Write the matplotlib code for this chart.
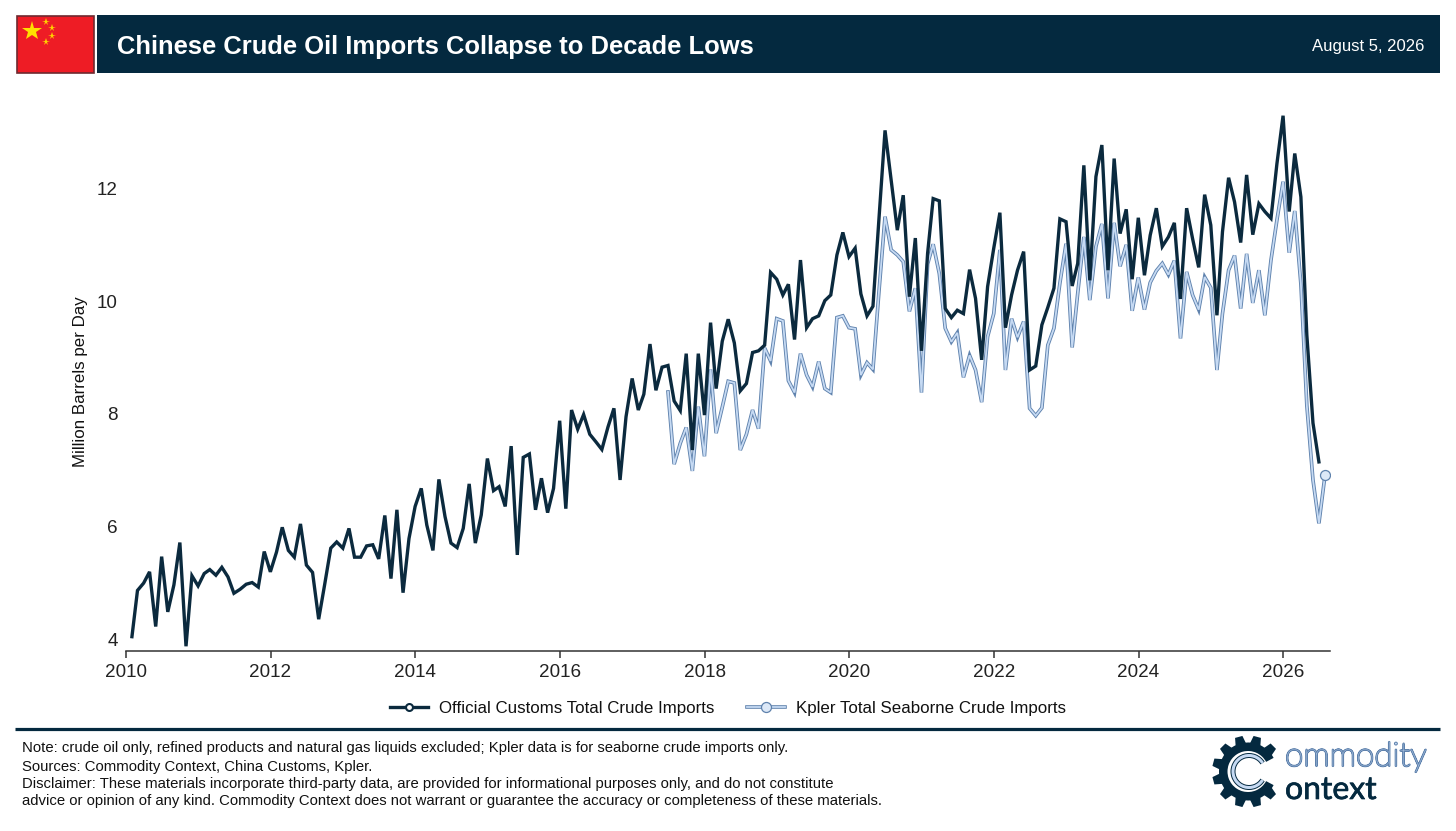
"""Chinese crude imports: customs vs Kpler seaborne, with header band and footer."""

import numpy as np
import pandas as pd
import matplotlib.pyplot as plt
import matplotlib.dates as mdates
import matplotlib.patheffects as pe
from matplotlib.lines import Line2D
from matplotlib.patches import Rectangle, Polygon, Wedge, Arc

plt.rcParams["font.family"] = ["Liberation Sans", "DejaVu Sans"]

NAVY = "#04293f"
LINE_DARK = "#0b2a3e"
KPLER_CORE = "#c6daf3"
KPLER_EDGE = "#5f82ad"
MARKER_FILL = "#dce8f7"

customs_start = "2010-01-31"
customs = [
    4.05, 4.87, 5.00, 5.20, 4.23, 5.47, 4.49, 4.97, 5.72, 3.88, 5.13, 4.95,
    5.17, 5.24, 5.14, 5.28, 5.11, 4.82, 4.89, 4.98, 5.01, 4.93, 5.56, 5.20,
    5.55, 5.99, 5.58, 5.46, 6.05, 5.32, 5.19, 4.36, 4.97, 5.62, 5.73, 5.62,
    5.97, 5.46, 5.46, 5.66, 5.68, 5.43, 6.20, 5.08, 6.30, 4.83, 5.79, 6.36,
    6.68, 6.03, 5.58, 6.84, 6.18, 5.71, 5.63, 5.97, 6.76, 5.71, 6.21, 7.21,
    6.64, 6.71, 6.36, 7.43, 5.50, 7.23, 7.29, 6.30, 6.86, 6.25, 6.68, 7.88,
    6.32, 8.07, 7.73, 7.99, 7.64, 7.51, 7.37, 7.77, 8.10, 6.83, 7.95, 8.63,
    8.07, 8.35, 9.24, 8.42, 8.83, 8.86, 8.23, 8.06, 9.07, 7.36, 9.07, 7.98,
    9.62, 8.45, 9.29, 9.68, 9.26, 8.41, 8.54, 9.09, 9.12, 9.22, 10.51, 10.39,
    10.11, 10.30, 9.32, 10.73, 9.53, 9.69, 9.74, 10.01, 10.11, 10.82, 11.22, 10.79,
    10.94, 10.13, 9.74, 9.91, 11.50, 13.03, 12.15, 11.26, 11.88, 10.08, 11.12, 9.12,
    10.85, 11.82, 11.78, 9.87, 9.71, 9.84, 9.78, 10.56, 10.05, 8.96, 10.26, 10.94,
    11.57, 9.53, 10.11, 10.55, 10.88, 8.78, 8.85, 9.58, 9.89, 10.23, 11.46, 11.41,
    10.27, 10.67, 12.41, 10.37, 12.21, 12.77, 10.55, 12.53, 11.20, 11.63, 10.39, 11.48,
    10.46, 11.17, 11.65, 10.97, 11.14, 11.39, 10.04, 11.65, 11.11, 10.60, 11.89, 11.35,
    9.75, 11.23, 12.19, 11.76, 11.04, 12.24, 11.18, 11.73, 11.59, 11.47, 12.44, 13.29,
    11.59, 12.62, 11.85, 9.40, 7.84, 7.15,
]

kpler_start = "2017-06-30"
kpler = [
    8.39, 7.11, 7.48, 7.76, 6.99, 8.13, 7.25, 8.79, 7.66, 8.12, 8.58, 8.55,
    7.36, 7.64, 8.07, 7.74, 9.17, 8.94, 9.69, 9.65, 8.59, 8.38, 9.07, 8.69,
    8.48, 8.93, 8.45, 8.38, 9.71, 9.74, 9.53, 9.51, 8.69, 8.91, 8.79, 10.20,
    11.50, 10.91, 10.82, 10.70, 9.82, 10.23, 8.38, 10.66, 11.01, 10.49, 9.52, 9.28,
    9.44, 8.65, 9.04, 8.78, 8.21, 9.37, 9.78, 10.91, 8.78, 9.69, 9.36, 9.64,
    8.10, 7.97, 8.11, 9.22, 9.52, 10.32, 11.02, 9.18, 10.14, 11.14, 10.02, 10.97,
    11.37, 10.05, 11.39, 10.62, 11.00, 9.83, 10.42, 9.85, 10.33, 10.54, 10.67, 10.47,
    10.72, 9.34, 10.52, 10.11, 9.85, 10.43, 10.24, 8.78, 9.78, 10.55, 10.81, 9.87,
    10.84, 9.97, 10.55, 9.75, 10.73, 11.44, 12.12, 10.86, 11.60, 10.30, 8.15, 6.83,
    6.06, 6.92,
]

year_ticks = [2010, 2012, 2014, 2016, 2018, 2020, 2022, 2024, 2026]
y_ticks = [4, 6, 8, 10, 12]

title = "Chinese Crude Oil Imports Collapse to Decade Lows"
date_label = "August 5, 2026"
customs_label = "Official Customs Total Crude Imports"
kpler_label = "Kpler Total Seaborne Crude Imports"
ylabel = "Million Barrels per Day"
footer = [
    "Note: crude oil only, refined products and natural gas liquids excluded; Kpler data is for seaborne crude imports only.",
    "Sources: Commodity Context, China Customs, Kpler.",
    "Disclaimer: These materials incorporate third-party data, are provided for informational purposes only, and do not constitute",
    "advice or opinion of any kind. Commodity Context does not warrant or guarantee the accuracy or completeness of these materials.",
]

W, H = 1456, 831
fig = plt.figure(figsize=(W / 100, H / 100), dpi=100, facecolor="white")

# main chart, placed in pixels
left, right, top, bottom = 126, 1330, 105, 651
ax = fig.add_axes([left / W, 1 - bottom / H, (right - left) / W, (bottom - top) / H])

customs_dates = pd.date_range(customs_start, periods=len(customs), freq="ME")
kpler_dates = pd.date_range(kpler_start, periods=len(kpler), freq="ME")

kpler_stroke = [pe.withStroke(linewidth=2.6, foreground=KPLER_EDGE)]
ax.plot(kpler_dates, kpler, color=KPLER_CORE, lw=1.3, solid_joinstyle="miter",
        path_effects=kpler_stroke, zorder=2)
ax.plot(kpler_dates[-1:], kpler[-1:], ls="none", marker="o", ms=7.2, mfc=MARKER_FILL,
        mec=KPLER_EDGE, mew=0.9, zorder=4)
ax.plot(customs_dates, customs, color=LINE_DARK, lw=2.4,
        solid_joinstyle="miter", zorder=3)

ax.set_xlim(pd.Timestamp("2010-01-01"), pd.Timestamp("2026-08-25"))
ax.set_ylim(3.796, 13.48)
ax.set_xticks([pd.Timestamp(f"{y}-01-01") for y in year_ticks])
ax.xaxis.set_major_formatter(mdates.DateFormatter("%Y"))
ax.set_yticks(y_ticks)
ax.tick_params(axis="x", length=5, width=1.1, color="#333333", labelsize=13.6, pad=4.5,
               labelcolor="#222222")
ax.tick_params(axis="y", length=0, labelsize=13.6, pad=6, labelcolor="#222222")
for side in ["top", "right", "left"]:
    ax.spines[side].set_visible(False)
ax.spines["bottom"].set_linewidth(1.1)
ax.spines["bottom"].set_color("#333333")
ax.set_ylabel(ylabel, fontsize=12.2, color="#111111")
ax.yaxis.set_label_coords(-0.0315, 0.4936)

handles = [
    Line2D([], [], color=LINE_DARK, lw=2.4, marker="o", ms=5, mfc="white",
           mec=LINE_DARK, mew=1.5),
    (Line2D([], [], color=KPLER_CORE, lw=1.3, path_effects=kpler_stroke),
     Line2D([], [], ls="none", marker="o", ms=7.2, mfc=MARKER_FILL, mec=KPLER_EDGE, mew=0.9)),
]
fig.legend(handles, [customs_label, kpler_label], ncol=2, frameon=False, fontsize=12.2,
           loc="center", bbox_to_anchor=(728 / W, 1 - 708 / H), handlelength=2.25,
           columnspacing=1.95, handletextpad=0.65, labelcolor="#111111")

# header, footer and logo drawn in pixel coordinates on a full-figure overlay
over = fig.add_axes([0, 0, 1, 1], zorder=-1)
over.set_xlim(0, W)
over.set_ylim(H, 0)
over.axis("off")

over.add_patch(Rectangle((97, 15), 1343, 58, fc=NAVY, ec="none"))
over.add_patch(Rectangle((16.5, 15.5), 77.5, 57, fc="#ee1c25", ec="#6e2a30", lw=1.2))
over.plot([31.5], [30.5], marker="*", ms=15, color="#ffe000", mew=0)
for sx, sy in [(45.5, 21.5), (51.5, 27.5), (51.5, 35.5), (45.5, 41.5)]:
    over.plot([sx], [sy], marker="*", ms=5.5, color="#ffd000", mew=0)
over.text(117, 47, title, color="white", fontsize=18.4, fontweight="bold", va="center")
over.text(1424, 46.5, date_label, color="white", fontsize=12, va="center", ha="right")

over.plot([15, 1440], [729, 729], color=NAVY, lw=2.3, solid_capstyle="butt")
for text_y, line in zip([748, 766.5, 784, 801], footer):
    over.text(22, text_y, line, fontsize=10.7, color="#111111", va="center")

# logo: gear ring with a gap on the right, inner C, two words
cx, cy = 1248, 771.5
over.add_patch(Wedge((cx, cy), 29, 28, 332, width=8.5, fc=NAVY, ec="none"))
for ang in [45, 75, 105, 135, 165, 195, 225, 255, 285, 315]:
    t = np.radians(ang)
    d = np.array([np.cos(t), -np.sin(t)])
    n = np.array([-d[1], d[0]])
    centre = np.array([cx, cy])
    pts = [centre + d * 27 + n * 5.5, centre + d * 35.8 + n * 3.8,
           centre + d * 35.8 - n * 3.8, centre + d * 27 - n * 5.5]
    over.add_patch(Polygon(pts, fc=NAVY, ec="none"))
c_stroke = [pe.withStroke(linewidth=3.6, foreground=NAVY)]
over.add_patch(Arc((cx + 1, cy), 32, 32, theta1=32, theta2=328, color=KPLER_CORE, lw=2.2,
                   path_effects=c_stroke))
over.text(1285, 766, "ommodity", fontsize=24, family="Lato", fontweight="light",
          color=KPLER_CORE, va="baseline",
          path_effects=[pe.withStroke(linewidth=1.5, foreground=KPLER_EDGE)])
over.text(1285, 799, "ontext", fontsize=23, family="Lato", color=NAVY, va="baseline",
          path_effects=[pe.withStroke(linewidth=0.5, foreground=NAVY)])

fig.savefig("out.png", dpi=100)
